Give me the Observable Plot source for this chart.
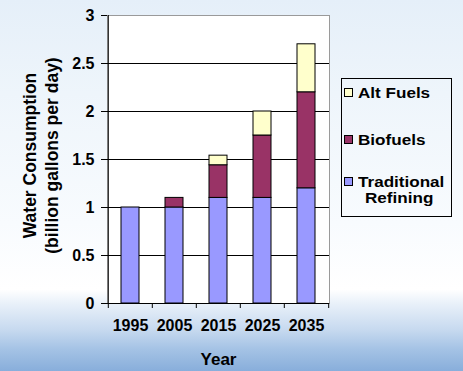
<!DOCTYPE html>
<html><head><meta charset="utf-8">
<script src="https://cdn.jsdelivr.net/npm/d3@7"></script>
<script src="https://cdn.jsdelivr.net/npm/@observablehq/plot@0.6"></script>
<style>
body{margin:0;}
#wrap{position:relative;width:463px;height:371px;overflow:hidden;
 font-family:"Liberation Sans",Arial,sans-serif;
 background:linear-gradient(to bottom,#e5eff9 0%,#eef5fb 25%,#f8fbfe 60%,#ffffff 78%,#e8f0f9 82%,#c6d9ef 89%,#a5c3e5 94%,#88aedb 100%);}
#chart{position:absolute;left:0;top:0;}
#legend{position:absolute;left:341px;top:78px;width:111px;height:139px;border:1px solid #000;box-sizing:border-box;}
.item{position:absolute;left:2px;font-weight:bold;font-size:14px;color:#000;line-height:15px;white-space:nowrap;}
.sw{display:inline-block;width:7px;height:7px;border:1px solid #000;margin-right:5px;vertical-align:1px;}
.lbl{display:inline-block;transform:scaleX(1.22);transform-origin:left center;}
</style></head>
<body><div id="wrap"><div id="chart"></div><div id="legend"></div></div>
<script>
const years = ["1995","2005","2015","2025","2035"];
const traditional = [1.0,1.0,1.1,1.1,1.2];
const biofuels = [0,0.1,0.34,0.65,1.0];
const altFuels = [0,0,0.1,0.25,0.5];
const seriesNames = ["Traditional Refining","Biofuels","Alt Fuels"];
const seriesColors = ["#9999FF","#993366","#FFFFCC"];
const legendLabels = ["Alt Fuels","Biofuels","Traditional\nRefining"];
const yTicks = [0,0.5,1,1.5,2,2.5,3];
const yTitle = ["Water Consumption","(billion gallons per day)"];
const xTitle = "Year";

const W = 463, H = 371, mL = 107, mR = 134, mT = 15, mB = 68;
const step = (W - mL - mR) / years.length;

const seriesValues = [traditional, biofuels, altFuels];
const data = [];
seriesNames.forEach((s, si) => years.forEach((y, i) => {
  if (seriesValues[si][i] > 0) data.push({year: y, series: s, value: seriesValues[si][i]});
}));

const ff = "Liberation Sans, Arial, sans-serif";
const tickFont = {fontSize: 16, fontWeight: "bold", fill: "black", fontFamily: ff};
const xTitleFont = {fontSize: 17, fontWeight: "bold", fill: "black", fontFamily: ff};
const titleFont = {fontSize: 17.5, fontWeight: "bold", fill: "black", fontFamily: ff};

const chart = Plot.plot({
  width: W, height: H,
  marginLeft: mL, marginRight: mR, marginTop: mT, marginBottom: mB,
  style: {background: "transparent", fontFamily: ff, color: "black", overflow: "visible"},
  x: {domain: years, paddingInner: 0.595, paddingOuter: 0.2975},
  y: {domain: [0, 3]},
  color: {domain: seriesNames, range: seriesColors},
  marks: [
    Plot.frame({fill: "white", stroke: "#9a9a9a"}),
    Plot.ruleY(yTicks.filter(t => t > 0 && t < 3), {stroke: "black", strokeWidth: 1}),
    Plot.barY(data, Plot.stackY({order: seriesNames}, {x: "year", y: "value", fill: "series", stroke: "black", strokeWidth: 1})),
    Plot.ruleY([0], {stroke: "black", strokeWidth: 1}),
    Plot.ruleX([years[0]], {dx: -step/2, y1: 0, y2: 3, stroke: "black", strokeWidth: 1}),
    Plot.axisY({ticks: yTicks, tickSize: 6, tickPadding: 7, tickFormat: d => String(d), label: null, ...tickFont, stroke: "black"}),
    Plot.axisX({tickSize: 5, text: null, dx: -step/2, label: null, stroke: "black"}),
    Plot.axisX({ticks: [years[years.length-1]], tickSize: 5, text: null, dx: step/2, label: null, stroke: "black"}),
    Plot.axisX({tickSize: 0, tickPadding: 16, label: null, ...tickFont}),
    Plot.text([xTitle], {text: d => d, frameAnchor: "bottom", lineAnchor: "top", dy: 49, ...xTitleFont}),
    Plot.text([yTitle[0]], {text: d => d, frameAnchor: "left", textAnchor: "middle", rotate: -90, dx: -77.5, dy: -4, ...titleFont}),
    Plot.text([yTitle[1]], {text: d => d, frameAnchor: "left", textAnchor: "middle", rotate: -90, dx: -55, dy: -4, ...titleFont})
  ]
});
document.getElementById("chart").appendChild(chart);

const legend = document.getElementById("legend");
const legendColors = seriesColors.slice().reverse();
const legendTops = [7, 54, 96];
legendLabels.forEach((lab, i) => {
  const lines = lab.split("\n");
  lines.forEach((line, j) => {
    const div = document.createElement("div");
    div.className = "item";
    div.style.top = (legendTops[i] + j * 16) + "px";
    div.innerHTML = j === 0
      ? `<span class="sw" style="background:${legendColors[i]}"></span><span class="lbl">${line}</span>`
      : `<span class="lbl" style="margin-left:21px">${line}</span>`;
    legend.appendChild(div);
  });
});
</script>
</body></html>
